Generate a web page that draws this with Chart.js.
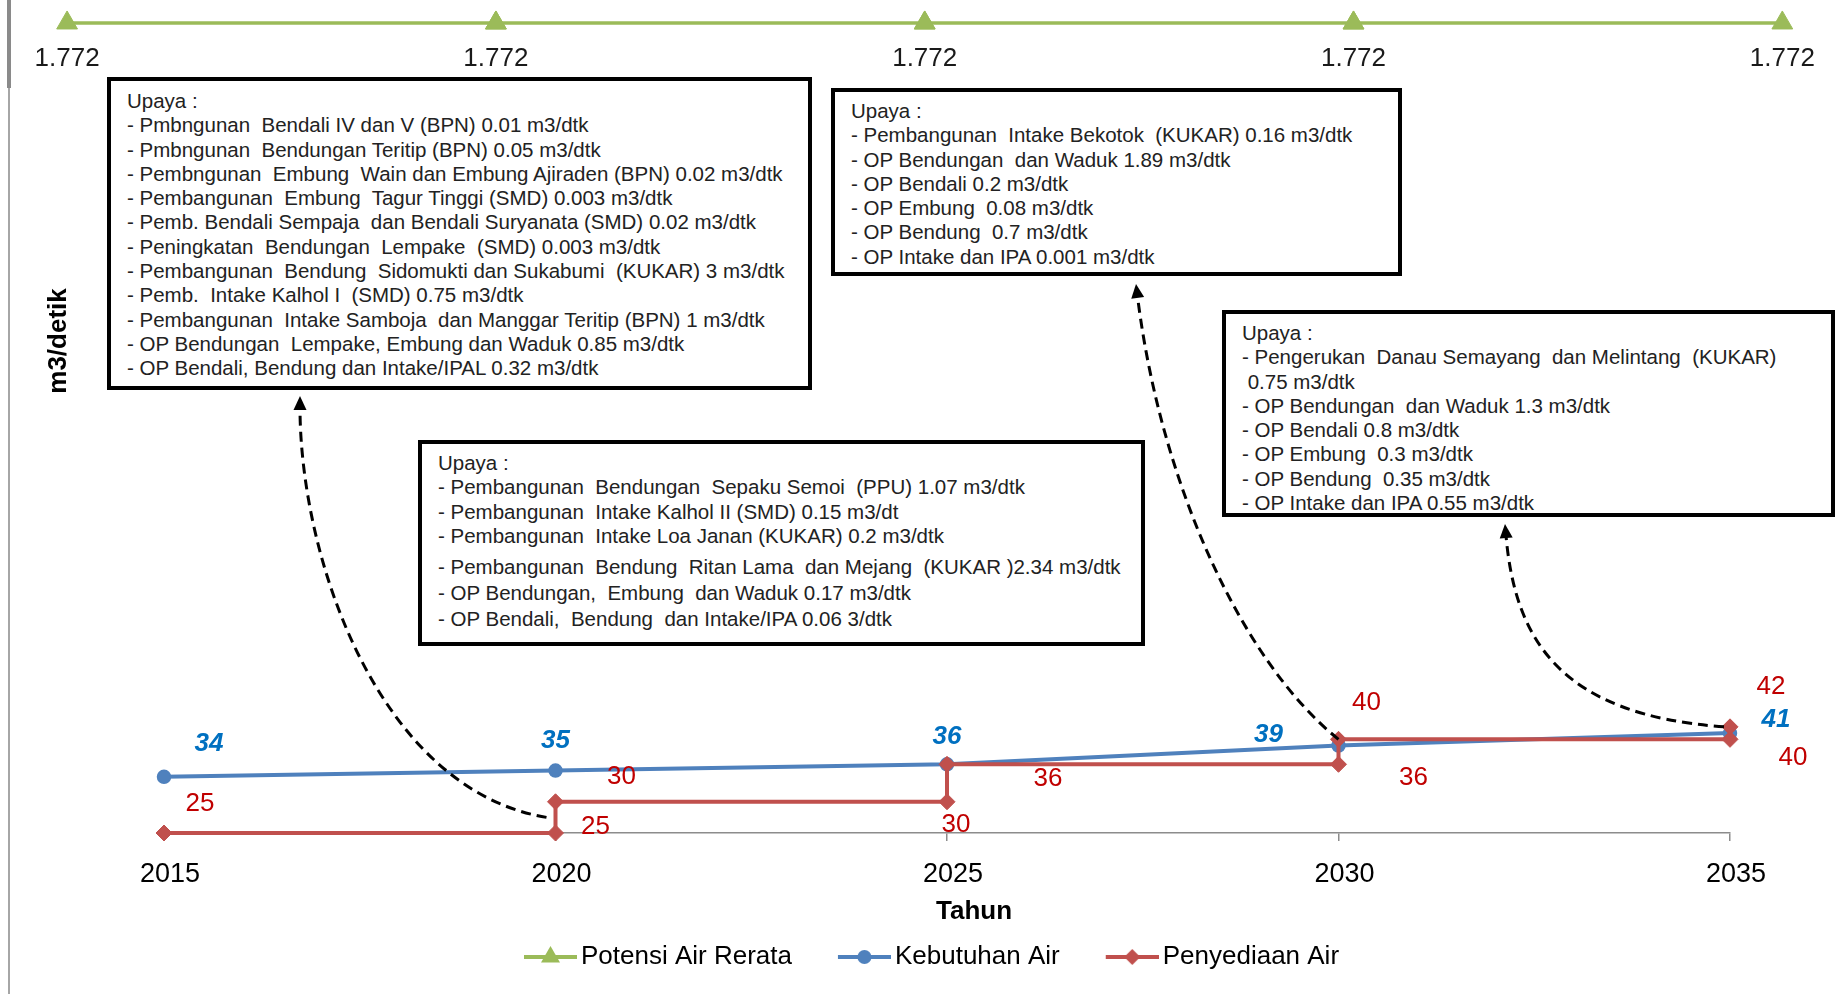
<!DOCTYPE html>
<html lang="id">
<head>
<meta charset="utf-8">
<title>Neraca Air</title>
<script src="https://cdn.jsdelivr.net/npm/chart.js@4.4.1/dist/chart.umd.min.js"></script>
<style>
    html, body { margin: 0; padding: 0; background: #fff; }
    #wrap { position: relative; width: 1837px; height: 994px; overflow: hidden; }
    #grafik { position: absolute; left: 0; top: 0; }
    .tepi { position: absolute; left: 8px; top: 0; width: 2px; height: 994px; background: #a6a6a6; }
    .tepi-atas { position: absolute; left: 7px; top: 0; width: 4px; height: 88px; background: #8a8a8a; }
    .upaya {
        position: absolute; box-sizing: border-box; border: 4px solid #000; background: #fff;
        font-family: 'Liberation Sans', Arial, sans-serif; font-size: 20.5px; line-height: 24.3px;
        color: #222; white-space: pre; padding: 7px 0 0 16px;
    }
</style>
</head>
<body>
<div id="wrap">
    <div class="tepi"></div>
    <div class="tepi-atas"></div>
    <canvas id="grafik" width="1837" height="994"></canvas>
</div>
<script>
// data grafik
const tahun = [2015, 2020, 2025, 2030, 2035]
const potensiAir = [1772, 1772, 1772, 1772, 1772]
const kebutuhanAir = [34, 35, 36, 39, 41]
const tahunPenyediaan = [2015, 2020, 2020, 2025, 2025, 2030, 2030, 2035, 2035]
const penyediaanAir = [25, 25, 30, 30, 36, 36, 40, 40, 42]
const namaSeri = ['Potensi Air Rerata', 'Kebutuhan Air', 'Penyediaan Air']

// teks upaya tiap periode
const upaya2020 = [
    'Upaya :',
    '- Pmbngunan  Bendali IV dan V (BPN) 0.01 m3/dtk',
    '- Pmbngunan  Bendungan Teritip (BPN) 0.05 m3/dtk',
    '- Pembngunan  Embung  Wain dan Embung Ajiraden (BPN) 0.02 m3/dtk',
    '- Pembangunan  Embung  Tagur Tinggi (SMD) 0.003 m3/dtk',
    '- Pemb. Bendali Sempaja  dan Bendali Suryanata (SMD) 0.02 m3/dtk',
    '- Peningkatan  Bendungan  Lempake  (SMD) 0.003 m3/dtk',
    '- Pembangunan  Bendung  Sidomukti dan Sukabumi  (KUKAR) 3 m3/dtk',
    '- Pemb.  Intake Kalhol I  (SMD) 0.75 m3/dtk',
    '- Pembangunan  Intake Samboja  dan Manggar Teritip (BPN) 1 m3/dtk',
    '- OP Bendungan  Lempake, Embung dan Waduk 0.85 m3/dtk',
    '- OP Bendali, Bendung dan Intake/IPAL 0.32 m3/dtk'
]
const upaya2025 = [
    'Upaya :',
    '- Pembangunan  Bendungan  Sepaku Semoi  (PPU) 1.07 m3/dtk',
    '- Pembangunan  Intake Kalhol II (SMD) 0.15 m3/dt',
    '- Pembangunan  Intake Loa Janan (KUKAR) 0.2 m3/dtk',
    '- Pembangunan  Bendung  Ritan Lama  dan Mejang  (KUKAR )2.34 m3/dtk',
    '- OP Bendungan,  Embung  dan Waduk 0.17 m3/dtk',
    '- OP Bendali,  Bendung  dan Intake/IPA 0.06 3/dtk'
]
const upaya2030 = [
    'Upaya :',
    '- Pembangunan  Intake Bekotok  (KUKAR) 0.16 m3/dtk',
    '- OP Bendungan  dan Waduk 1.89 m3/dtk',
    '- OP Bendali 0.2 m3/dtk',
    '- OP Embung  0.08 m3/dtk',
    '- OP Bendung  0.7 m3/dtk',
    '- OP Intake dan IPA 0.001 m3/dtk'
]
const upaya2035 = [
    'Upaya :',
    '- Pengerukan  Danau Semayang  dan Melintang  (KUKAR)',
    ' 0.75 m3/dtk',
    '- OP Bendungan  dan Waduk 1.3 m3/dtk',
    '- OP Bendali 0.8 m3/dtk',
    '- OP Embung  0.3 m3/dtk',
    '- OP Bendung  0.35 m3/dtk',
    '- OP Intake dan IPA 0.55 m3/dtk'
]

const FONT = '"Liberation Sans", Arial, sans-serif'
Chart.defaults.font.family = FONT

// kotak upaya (posisi dalam piksel)
const kotak = [
    { baris: upaya2020, left: 107, top: 77, width: 705, height: 313, pad: 8, jarak: [] },
    { baris: upaya2025, left: 418, top: 440, width: 727, height: 206, pad: 7, jarak: [0, 0, 0, 0, 7, 2, 1] },
    { baris: upaya2030, left: 831, top: 88, width: 571, height: 188, pad: 7, jarak: [] },
    { baris: upaya2035, left: 1222, top: 310, width: 613, height: 207, pad: 7, jarak: [] }
]
const wrap = document.getElementById('wrap')
kotak.forEach(k => {
    const div = document.createElement('div')
    div.className = 'upaya'
    div.style.left = k.left + 'px'
    div.style.top = k.top + 'px'
    div.style.width = k.width + 'px'
    div.style.height = k.height + 'px'
    div.style.paddingTop = k.pad + 'px'
    k.baris.forEach((t, i) => {
        const b = document.createElement('div')
        b.textContent = t
        if (k.jarak[i]) b.style.marginTop = k.jarak[i] + 'px'
        div.appendChild(b)
    })
    wrap.appendChild(div)
})

// geser label data (dx, dy) per titik
const gayaLabel = [
    { font: '26px ' + FONT, warna: '#1a1a1a', geser: [[0, 36], [0, 36], [0, 36], [0, 36], [0, 36]] },
    { font: 'italic bold 26px ' + FONT, warna: '#0070C0', geser: [[45, -33], [0, -30], [0, -27], [-70, -11], [46, -13]] },
    { font: '26px ' + FONT, warna: '#C00000',
      geser: [[36, -29], [40, -6], [66, -25], [9, 23], [101, 15], [75, 14], [28, -36], [63, 19], [41, -40]] }
]

function formatAngka(v) {
    return String(v).replace(/\B(?=(\d{3})+(?!\d))/g, '.')
}

function panah(ctx, p0, c1, c2, p3) {
    const ang = Math.atan2(p3.y - c2.y, p3.x - c2.x)
    const len = 14, lebar = 6.5
    const ujung = { x: p3.x - Math.cos(ang) * len * 0.8, y: p3.y - Math.sin(ang) * len * 0.8 }
    ctx.save()
    ctx.strokeStyle = '#000'
    ctx.lineWidth = 3
    ctx.setLineDash([10, 6])
    ctx.beginPath()
    ctx.moveTo(p0.x, p0.y)
    ctx.bezierCurveTo(c1.x, c1.y, c2.x, c2.y, ujung.x, ujung.y)
    ctx.stroke()
    ctx.setLineDash([])
    ctx.fillStyle = '#000'
    const bx = p3.x - Math.cos(ang) * len, by = p3.y - Math.sin(ang) * len
    ctx.beginPath()
    ctx.moveTo(p3.x, p3.y)
    ctx.lineTo(bx + Math.sin(ang) * lebar, by - Math.cos(ang) * lebar)
    ctx.lineTo(bx - Math.sin(ang) * lebar, by + Math.cos(ang) * lebar)
    ctx.closePath()
    ctx.fill()
    ctx.restore()
}

function teksTegak(ctx, teks, x, y, sudut) {
    ctx.save()
    ctx.translate(x, y)
    ctx.rotate(sudut)
    ctx.font = 'bold 26px ' + FONT
    ctx.fillStyle = '#000'
    ctx.textAlign = 'center'
    ctx.textBaseline = 'middle'
    ctx.fillText(teks, 0, 0)
    ctx.restore()
}

const plugAnotasi = {
    id: 'anotasi',
    afterDatasetsDraw(chart) {
        const ctx = chart.ctx
        const xs = chart.scales.x, ys = chart.scales.y

        // penanda potensi air di luar area grafik juga digambar
        const luas = { left: -9999, top: -9999, right: 9999, bottom: 9999 }
        chart.getDatasetMeta(0).data.forEach(pt => pt.draw(ctx, luas))

        // label nilai
        chart.data.datasets.forEach((ds, i) => {
            const meta = chart.getDatasetMeta(i)
            const g = gayaLabel[i]
            ctx.save()
            ctx.font = g.font
            ctx.fillStyle = g.warna
            ctx.textAlign = 'center'
            ctx.textBaseline = 'middle'
            meta.data.forEach((pt, j) => {
                const [dx, dy] = g.geser[j]
                ctx.fillText(formatAngka(ds.data[j].y), pt.x + dx, pt.y + dy)
            })
            ctx.restore()
        })

        // panah putus-putus ke kotak upaya
        panah(ctx, { x: xs.getPixelForValue(2020) - 9, y: (ys.getPixelForValue(25) + ys.getPixelForValue(30)) / 2 },
            { x: 380, y: 790 }, { x: 300, y: 560 }, { x: 300, y: 396 })
        panah(ctx, { x: xs.getPixelForValue(2030), y: ys.getPixelForValue(40) },
            { x: 1240, y: 660 }, { x: 1160, y: 480 }, { x: 1136, y: 284 })
        panah(ctx, { x: xs.getPixelForValue(2035) - 6, y: ys.getPixelForValue(42) },
            { x: 1560, y: 715 }, { x: 1515, y: 640 }, { x: 1505, y: 524 })

        // judul sumbu
        teksTegak(ctx, 'm3/detik', 59, 341, -Math.PI / 2)
        teksTegak(ctx, 'Tahun', (xs.left + xs.right) / 2 + 27, xs.bottom - 28.5, 0)
    }
}

// ikon legenda: garis + penanda
function ikonLegenda(warna, bentuk) {
    const c = document.createElement('canvas')
    c.width = 104
    c.height = 26
    const g = c.getContext('2d')
    const cx = 77.5, cy = 13
    g.strokeStyle = warna
    g.lineWidth = 4
    g.beginPath()
    g.moveTo(51, cy)
    g.lineTo(104, cy)
    g.stroke()
    g.fillStyle = warna
    g.beginPath()
    if (bentuk === 'circle') {
        g.arc(cx, cy, 7, 0, Math.PI * 2)
    } else if (bentuk === 'triangle') {
        g.moveTo(cx, cy - 11)
        g.lineTo(cx + 9.5, cy + 5.5)
        g.lineTo(cx - 9.5, cy + 5.5)
        g.closePath()
    } else {
        g.moveTo(cx, cy - 8)
        g.lineTo(cx + 8, cy)
        g.lineTo(cx, cy + 8)
        g.lineTo(cx - 8, cy)
        g.closePath()
    }
    g.fill()
    return c
}

const warnaSeri = ['#9BBB59', '#4F81BD', '#C0504D']
const bentukSeri = ['triangle', 'circle', 'rectRot']
const ikon = warnaSeri.map((w, i) => ikonLegenda(w, bentukSeri[i]))

const hidden = {
    display: true,
    ticks: { display: false },
    grid: { display: false, drawTicks: false },
    border: { display: false }
}

new Chart(document.getElementById('grafik'), {
    type: 'line',
    data: {
        datasets: [
            {
                label: namaSeri[0],
                data: tahun.map((t, i) => ({ x: t, y: potensiAir[i] })),
                xAxisID: 'x2', yAxisID: 'y2',
                borderColor: warnaSeri[0], backgroundColor: warnaSeri[0],
                borderWidth: 3.5,
                pointStyle: 'triangle', pointRadius: 12,
                pointBackgroundColor: warnaSeri[0], pointBorderColor: warnaSeri[0], pointBorderWidth: 1,
                clip: false, order: 2
            },
            {
                label: namaSeri[1],
                data: tahun.map((t, i) => ({ x: t, y: kebutuhanAir[i] })),
                xAxisID: 'x', yAxisID: 'y',
                borderColor: warnaSeri[1], backgroundColor: warnaSeri[1],
                borderWidth: 4,
                pointStyle: 'circle', pointRadius: 6.5,
                pointBackgroundColor: warnaSeri[1], pointBorderColor: warnaSeri[1], pointBorderWidth: 1.5,
                clip: false, order: 1
            },
            {
                label: namaSeri[2],
                data: tahunPenyediaan.map((t, i) => ({ x: t, y: penyediaanAir[i] })),
                xAxisID: 'x', yAxisID: 'y',
                borderColor: warnaSeri[2], backgroundColor: warnaSeri[2],
                borderWidth: 4,
                pointStyle: 'rectRot', pointRadius: 8,
                pointBackgroundColor: warnaSeri[2], pointBorderColor: warnaSeri[2], pointBorderWidth: 1,
                clip: false, order: 0
            }
        ]
    },
    options: {
        responsive: false,
        animation: false,
        events: [],
        layout: { padding: { top: 10, bottom: 14, left: 0, right: 16 } },
        plugins: {
            tooltip: { enabled: false },
            legend: {
                position: 'bottom',
                labels: {
                    usePointStyle: true,
                    pointStyleWidth: 86,
                    padding: 4,
                    color: '#000',
                    font: { size: 26, family: FONT },
                    generateLabels: chart => chart.data.datasets.map((ds, i) => ({
                        text: ds.label,
                        pointStyle: ikon[i],
                        fillStyle: ds.borderColor,
                        strokeStyle: ds.borderColor,
                        lineWidth: 0,
                        hidden: false,
                        fontColor: '#000',
                        datasetIndex: i
                    }))
                }
            }
        },
        scales: {
            x: {
                type: 'linear', position: 'bottom',
                min: 2015, max: 2035,
                ticks: {
                    stepSize: 5, autoSkip: false, maxRotation: 0,
                    padding: 17.8, labelOffset: 6, color: '#000',
                    font: { size: 27, family: FONT },
                    callback: v => String(v)
                },
                grid: { display: true, drawOnChartArea: false, drawTicks: true, tickLength: 8, color: '#8c8c8c', lineWidth: 1.5 },
                border: { display: true, color: '#8c8c8c', width: 1.5 },
                title: { display: false },
                afterFit: s => { s.height = 107 }
            },
            x2: {
                type: 'linear', display: false,
                min: 2016.13, max: 2034.39
            },
            y: Object.assign({}, hidden, {
                type: 'linear', position: 'left', min: 25, max: 156.3,
                afterFit: s => { s.width = 164 }
            }),
            y2: Object.assign({}, hidden, {
                type: 'linear', position: 'right', min: 0, max: 1793.8,
                afterFit: s => { s.width = 91 }
            })
        }
    },
    plugins: [plugAnotasi]
})
</script>
</body>
</html>
